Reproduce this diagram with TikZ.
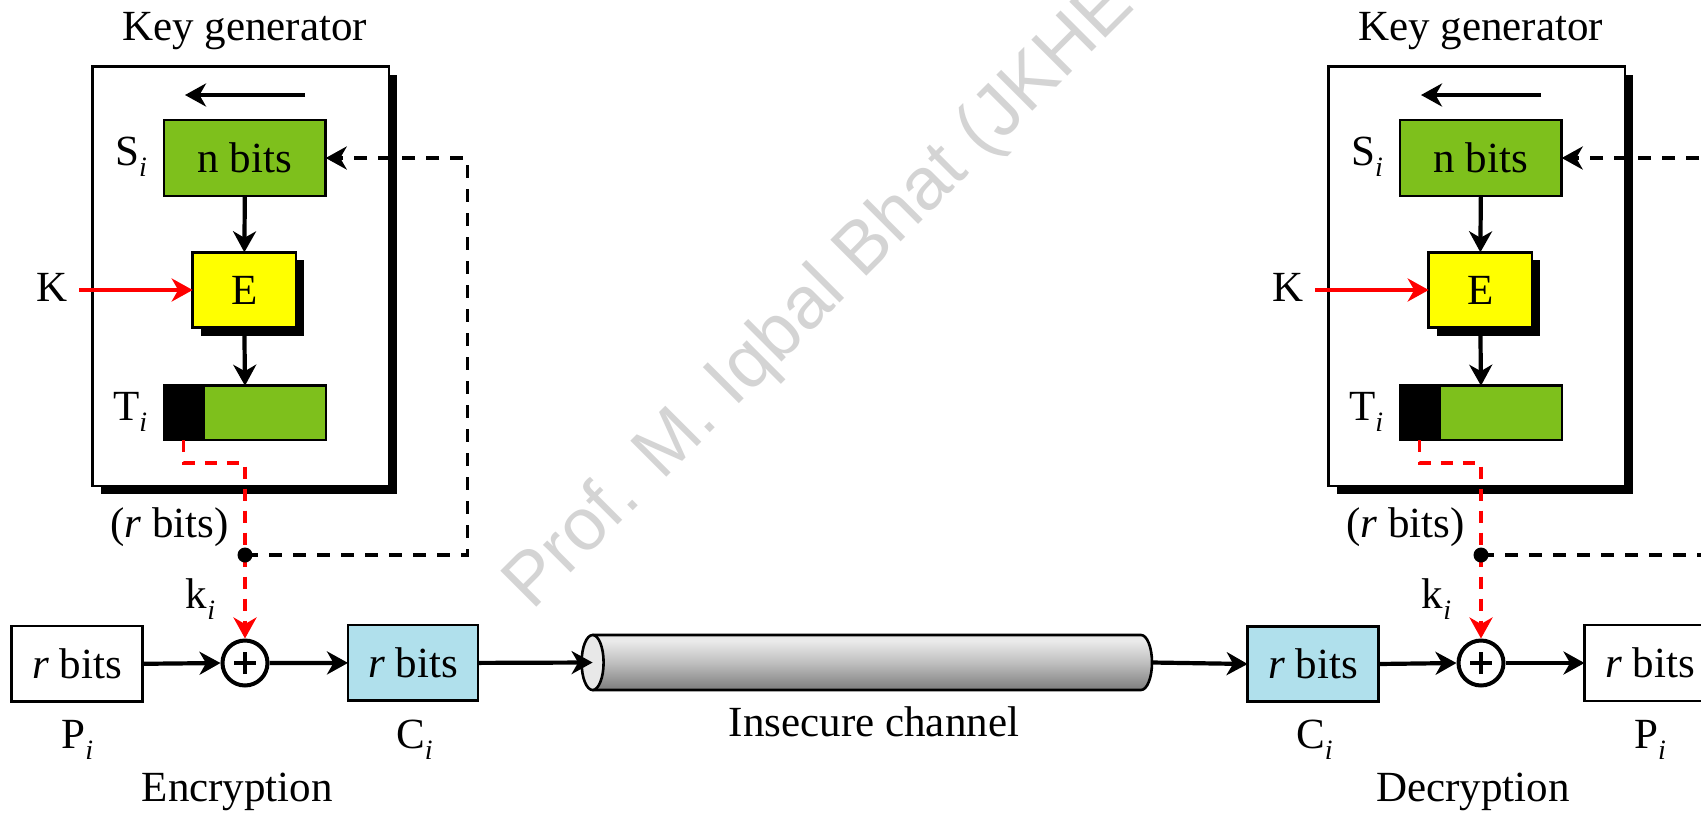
\documentclass[tikz,border=0pt]{standalone}
\usepackage{fontspec}
\setmainfont{Liberation Serif}
\newfontfamily\wmfont{Liberation Sans}
\usetikzlibrary{arrows.meta,shadows,calc}
\definecolor{bitgreen}{RGB}{126,192,28}
\definecolor{eyellow}{RGB}{255,255,0}
\definecolor{cblue}{RGB}{176,224,236}
\definecolor{wmgray}{RGB}{212,212,212}
\definecolor{facegray}{RGB}{232,232,232}
\pgfdeclareverticalshading{cylshade}{100bp}{color(0bp)=(black!32); color(15bp)=(black!45); color(28bp)=(black!48); color(50bp)=(black!25); color(70bp)=(black!8); color(85bp)=(black!12); color(100bp)=(black!24)}
\newcommand\subi{\raisebox{-11pt}{\fontsize{28}{28}\selectfont\itshape i}}
\tikzset{
 lbl/.style={inner sep=0pt, font=\fontsize{43}{48}\selectfont},
 boxst/.style={draw, line width=2.6pt, inner sep=0pt, outer sep=0pt, font=\fontsize{43}{48}\selectfont},
 tip/.style={-{Stealth[length=21pt,width=23pt,inset=6.5pt]}},
 conn/.style={line width=4.2pt, tip},
 bdash/.style={line width=3.8pt, dash pattern=on 13pt off 11pt},
 rdash/.style={line width=3.8pt, red, dash pattern=on 12pt off 10pt},
 shd/.style={drop shadow={shadow xshift=8pt, shadow yshift=-8pt, opacity=1, fill=black}},
}
\begin{document}
\begin{tikzpicture}[x=1pt,y=-1pt]
\useasboundingbox (0,0) rectangle (1701,815);
\clip (0,0) rectangle (1701,815);
\fill[white] (0,0) rectangle (1701,815);
% watermark
\node[anchor=base west, rotate=45, inner sep=0pt, text=wmgray, font=\wmfont\fontsize{74}{80}\selectfont] (wm) at (532,611.4) {Prof. M. Iqbal Bhat (JKHE};
% key generators
\foreach \p/\o in {e/0,d/1236}{
\begin{scope}[xshift=\o pt]
 \node[lbl, anchor=base] (\p kgl) at (244.7,40.7) {Key generator};
 \node[boxst, fill=white, minimum width=296.3pt, minimum height=419.3pt, shd] (\p kg) at (240.85,276.35) {};
 \coordinate (\p sa) at (305,95);
 \coordinate (\p sb) at (185,95);
 \draw[conn] (\p sa) -- (\p sb);
 \node[boxst, fill=bitgreen, minimum width=161.7pt, minimum height=76pt] (\p nb) at (244.85,158) {n bits};
 \node[lbl, anchor=base west] (\p S) at (115,165) {S\subi};
 \node[boxst, fill=eyellow, minimum width=103.3pt, minimum height=75.4pt, shd] (\p E) at (244.35,290) {E};
 \node[lbl, anchor=base west] (\p K) at (36,301.7) {K};
 \coordinate (\p k0) at (79,290);
 \draw[conn, red] (\p k0) -- (\p E.west);
 \node[boxst, fill=bitgreen, minimum width=162pt, minimum height=54.3pt] (\p T) at (245,412.85) {};
 \fill[black] (\p T.north west) rectangle ([xshift=41pt]\p T.south west);
 \draw[line width=2.6pt] (\p T.north west) rectangle (\p T.south east);
 \node[lbl, anchor=base west] (\p Tl) at (113,420.5) {T\subi};
 \draw[conn] (\p nb.south) -- (\p E.north);
 \draw[conn] (\p E.south) -- (\p T.north);
 \node[draw, circle, line width=4pt, minimum size=45pt, inner sep=0pt, fill=white] (\p x) at (245,663) {};
 \draw[line width=4pt] ([xshift=-11pt]\p x.center) -- ([xshift=11pt]\p x.center) ([yshift=-11pt]\p x.center) -- ([yshift=11pt]\p x.center);
 \coordinate (\p jn) at (245,555);
 \draw[rdash, tip] ([xshift=19.5pt]\p T.south west) -- ++(0,22.7) -| (\p x.north);
 \draw[bdash, tip] (\p jn) -- ++(222.5,0) |- (\p nb.east);
 \fill[black] (\p jn) circle (7.5pt);
 \node[lbl, anchor=base] (\p rb) at (169.4,537) {({\itshape r} bits)};
 \node[lbl, anchor=base west] (\p ki) at (185.6,608.3) {k\subi};
\end{scope}
}
% encryption side
\node[boxst, fill=white, minimum width=131pt, minimum height=75.7pt] (eP) at (77,663.8) {{\itshape r} bits};
\node[boxst, fill=cblue, minimum width=130pt, minimum height=75.7pt] (eC) at (413,662.9) {{\itshape r} bits};
\node[lbl, anchor=base west] (ePi) at (61.2,748.3) {P\subi};
\node[lbl, anchor=base west] (eCi) at (396,748.3) {C\subi};
\node[lbl, anchor=base] (eenc) at (237.3,801.7) {Encryption};
\draw[conn] (eP.east) -- (ex.west);
\draw[conn] (ex.east) -- (eC.west);
% channel
\coordinate (cl) at (592.6,662.5);
\coordinate (cr) at (1152,662.5);
\path[shading=cylshade] (592.6,635) -- (1141,635) arc[start angle=90,end angle=-90,x radius=11pt,y radius=27.5pt] -- (592.6,690) -- cycle;
\draw[line width=2.6pt] (592.6,635) -- (1141,635) arc[start angle=90,end angle=-90,x radius=11pt,y radius=27.5pt] -- (592.6,690);
\draw[line width=2.6pt, fill=facegray] (cl) ellipse[x radius=11pt, y radius=27.5pt];
\node[lbl, anchor=base] (chan) at (874,736) {Insecure channel};
\draw[conn] (eC.east) -- (cl);
% decryption side
\node[boxst, fill=cblue, minimum width=130.7pt, minimum height=75.4pt] (dC) at (1313,664) {{\itshape r} bits};
\node[boxst, fill=white, minimum width=131pt, minimum height=75.7pt] (dP) at (1650,663) {{\itshape r} bits};
\node[lbl, anchor=base west] (dCi) at (1296,748.3) {C\subi};
\node[lbl, anchor=base west] (dPi) at (1634,748.3) {P\subi};
\node[lbl, anchor=base] (ddec) at (1473,801.7) {Decryption};
\draw[conn] (cr) -- (dC.west);
\draw[conn] (dC.east) -- (dx.west);
\draw[conn] (dx.east) -- (dP.west);
\end{tikzpicture}
\end{document}
